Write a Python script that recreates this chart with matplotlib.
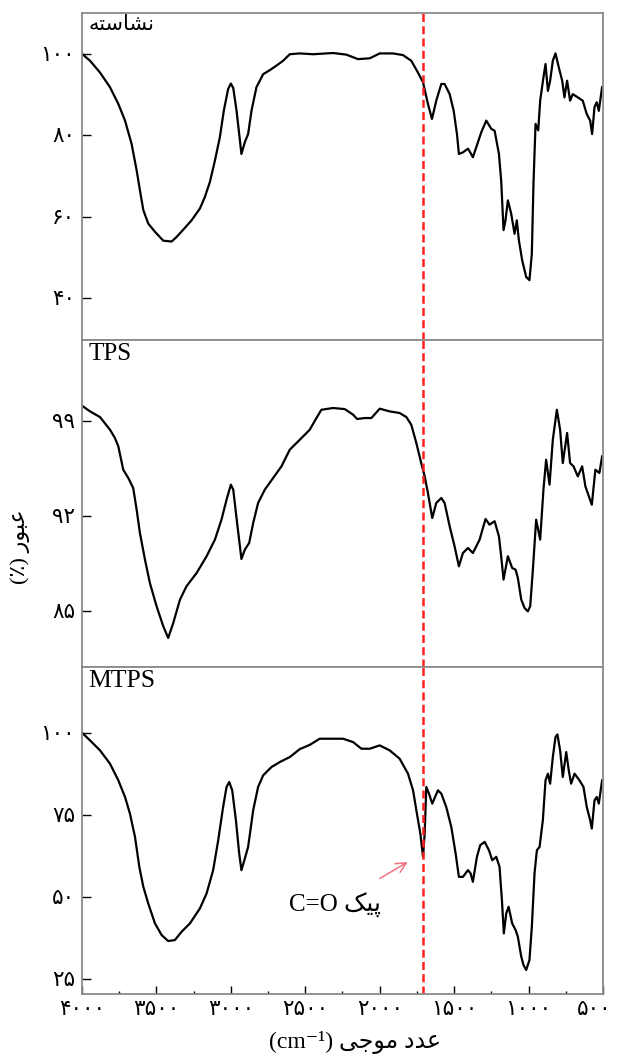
import matplotlib
matplotlib.use("Agg")
import matplotlib.pyplot as plt
from matplotlib.transforms import ScaledTranslation

# wavenumber (cm-1) / transmittance (%)
starch_wn = [4000, 3946, 3879, 3812, 3756, 3711, 3667, 3633, 3611, 3588, 3555, 3510, 3454, 3398, 3365,
             3320, 3264, 3208, 3175, 3141, 3107, 3074, 3047, 3018, 3000, 2984, 2962, 2944, 2929, 2906,
             2884, 2861, 2828, 2783, 2738, 2694, 2649, 2604, 2537, 2448, 2313, 2224, 2146, 2067, 2000,
             1911, 1844, 1788, 1743, 1709, 1676, 1649, 1620, 1586, 1564, 1530, 1503, 1481, 1468, 1441,
             1407, 1392, 1374, 1351, 1318, 1284, 1251, 1228, 1199, 1184, 1168, 1155, 1139, 1117, 1094,
             1079, 1065, 1043, 1016, 994, 978, 967, 953, 935, 922, 900, 886, 870, 855, 837,
             819, 797, 774, 759, 741, 721, 703, 669, 636, 609, 586, 573, 557, 542, 528, 506]
starch_t = [100, 98.3, 95.4, 91.8, 87.7, 83.6, 77.9, 71.4, 66.5, 61.6, 58.3, 56.3, 54.1, 53.9, 55.0,
            56.8, 59.1, 62.0, 64.8, 68.5, 73.8, 79.5, 86.1, 91.4, 92.7, 91.6, 86.1, 80.3, 75.4, 78.3,
            80.3, 86.1, 91.8, 95.0, 96.0, 97.1, 98.3, 99.9, 100.1, 99.9, 100.2, 99.8, 98.7, 98.9, 100.1,
            100.1, 99.7, 98.3, 95.4, 93.0, 87.7, 84.0, 88.5, 92.6, 92.6, 90.1, 86.0, 80.3, 75.4, 75.8,
            76.7, 75.8, 74.6, 77.1, 80.7, 83.6, 81.6, 81.1, 75.4, 68.9, 56.7, 59.1, 64.0, 60.8, 55.8,
            59.1, 54.2, 49.3, 45.2, 44.4, 50.9, 68.1, 82.8, 81.2, 88.5, 94.2, 97.5, 90.9, 93.4, 98.3,
            100.1, 96.7, 93.4, 89.3, 93.4, 88.5, 90.1, 89.3, 88.5, 85.2, 83.6, 80.3, 86.9, 88.1, 86.0, 91.8]

tps_wn = [4000, 3946, 3879, 3812, 3779, 3756, 3723, 3689, 3656, 3633, 3611, 3577, 3544, 3499, 3454,
          3421, 3387, 3342, 3298, 3230, 3163, 3107, 3063, 3029, 3000, 2984, 2958, 2929, 2906, 2877,
          2850, 2817, 2772, 2716, 2660, 2604, 2537, 2470, 2425, 2392, 2313, 2235, 2179, 2152, 2101,
          2056, 2000, 1933, 1866, 1821, 1788, 1754, 1721, 1698, 1676, 1647, 1620, 1586, 1564, 1530,
          1497, 1468, 1441, 1407, 1374, 1329, 1289, 1262, 1228, 1199, 1184, 1168, 1139, 1110, 1087,
          1072, 1049, 1027, 1005, 989, 971, 949, 922, 900, 882, 859, 837, 810, 788, 770,
          741, 721, 698, 669, 640, 618, 595, 575, 551, 524, 506]
tps_t = [100.16, 99.74, 99.32, 98.39, 97.78, 97.16, 95.44, 94.83, 94.09, 92.5, 90.78, 88.81, 87.09, 85.37, 83.9,
         83.04, 84.14, 85.86, 86.85, 87.83, 89.06, 90.29, 91.76, 93.23, 94.34, 93.97, 91.51, 88.86, 89.55, 90.04,
         91.51, 92.99, 93.97, 94.83, 95.69, 96.92, 97.65, 98.39, 99.25, 99.86, 99.99, 99.91, 99.5, 99.18, 99.25,
         99.25, 99.94, 99.74, 99.62, 99.32, 98.76, 97.41, 95.93, 94.95, 93.72, 91.88, 92.99, 93.36, 92.99, 91.27,
         89.79, 88.32, 89.3, 89.67, 89.3, 90.28, 91.81, 91.39, 91.64, 90.53, 89.06, 87.34, 89.06, 88.2, 88.07,
         87.46, 85.86, 85.25, 85.0, 85.37, 88.07, 91.76, 90.29, 93.97, 96.18, 94.34, 97.65, 99.86, 98.39, 95.93,
         98.15, 95.93, 95.69, 94.95, 95.69, 94.21, 93.48, 92.86, 95.44, 95.2, 96.42]

mtps_wn = [4000, 3946, 3879, 3812, 3756, 3711, 3678, 3644, 3615, 3588, 3555, 3510, 3465, 3421, 3376,
           3331, 3275, 3208, 3163, 3119, 3085, 3052, 3029, 3011, 2991, 2966, 2944, 2929, 2906, 2884,
           2850, 2817, 2783, 2727, 2671, 2604, 2537, 2470, 2403, 2246, 2179, 2123, 2067, 2000, 1933,
           1866, 1810, 1776, 1750, 1727, 1709, 1698, 1687, 1669, 1647, 1609, 1586, 1553, 1519, 1490,
           1468, 1441, 1407, 1389, 1374, 1347, 1325, 1295, 1266, 1244, 1217, 1195, 1179, 1166, 1150,
           1134, 1110, 1087, 1072, 1049, 1034, 1016, 994, 978, 960, 944, 926, 904, 886, 870,
           855, 837, 819, 806, 788, 770, 747, 730, 714, 691, 658, 631, 609, 586, 575, 557,
           542, 528, 506]
mtps_t = [100, 97.66, 94.62, 90.56, 85.49, 80.42, 75.36, 68.26, 59.13, 53.05, 47.98, 41.9, 38.35, 36.53, 36.83,
          39.36, 41.9, 46.46, 51.03, 58.12, 67.24, 77.38, 83.47, 84.99, 82.45, 73.33, 63.19, 58.12, 61.67, 65.22,
          76.37, 83.47, 87.02, 89.55, 91.07, 92.59, 95.0, 96.3, 98.17, 98.17, 97.15, 95.12, 95.12, 96.14, 94.62,
          92.08, 87.52, 82.45, 75.36, 69.27, 62.18, 69.27, 83.47, 81.44, 78.4, 82.45, 81.44, 77.38, 71.3, 63.19,
          56.09, 56.09, 58.12, 57.1, 54.57, 62.18, 65.72, 66.74, 64.2, 61.16, 62.18, 59.13, 49.0, 38.86, 44.94,
          46.97, 41.9, 39.87, 37.85, 31.76, 29.23, 27.71, 30.75, 40.88, 57.1, 64.2, 65.22, 73.33, 85.49, 87.52,
          84.48, 92.59, 98.67, 99.48, 94.62, 86.51, 94.11, 88.53, 84.48, 87.52, 85.49, 83.47, 77.38, 73.33, 70.79, 79.4,
          80.42, 78.4, 85.49]

# panel names (Arabic written in presentation forms, visual order)
panel_names = ["\uFEEA\uFE98\uFEB3\uFE8E\uFEB8\uFEE7", "TPS", "MTPS"]
name_sizes = [15, 18, 18.5]
ylims = [(29.7, 110), (80.9, 105), (20.4, 120)]
yticks = [[100, 80, 60, 40], [99, 92, 85], [100, 75, 50, 25]]
ytick_labels = [["۱۰۰", "۸۰", "۶۰", "۴۰"], ["۹۹", "۹۲", "۸۵"], ["۱۰۰", "۷۵", "۵۰", "۲۵"]]
xticks = [4000, 3500, 3000, 2500, 2000, 1500, 1000, 500]
xtick_labels = ["۴۰۰۰", "۳۵۰۰", "۳۰۰۰", "۲۵۰۰", "۲۰۰۰", "۱۵۰۰", "۱۰۰۰", "۵۰۰"]
carbonyl = 1712

ylabel = "(\u066A) \uFEAD\uFEEE\uFE92\uFECB"
xlabel = "(cm\u207B\u00B9) \uFEF0\uFE9F\uFEEE\uFEE3 \uFEA9\uFEAA\uFECB"
peak_label = "C=O \uFB8F\uFEF4\uFB58"

plt.rcParams["font.family"] = ["Liberation Serif", "DejaVu Sans"]

fig = plt.figure(figsize=(6.18, 10.58), dpi=100)
spectra = [(starch_wn, starch_t), (tps_wn, tps_t), (mtps_wn, mtps_t)]
bottoms = [0.6786, 0.3696, 0.0605]
axes = []
for i, (wn, t) in enumerate(spectra):
    ax = fig.add_axes([0.1327, bottoms[i], 0.843, 0.309])
    ax.plot(wn, t, color="black", lw=1.6, solid_joinstyle="round")
    ax.axvline(carbonyl, color="#ff1f1f", lw=1.8, dashes=(3.2, 1.7))
    ax.set_xlim(4000, 500)
    ax.set_ylim(*ylims[i])
    ax.set_yticks(yticks[i])
    ax.set_yticklabels(ytick_labels[i], fontsize=15.5)
    ax.tick_params(axis="y", direction="in", length=6.5, width=1, pad=5)
    for s in ax.spines.values():
        s.set_color("#8a8a8a")
        s.set_linewidth(1.3)
    ax.text(0.012, 0.992, panel_names[i], transform=ax.transAxes, va="top", ha="left",
            fontsize=name_sizes[i])
    if i < 2:
        ax.set_xticks([])
    axes.append(ax)

ax = axes[2]
ax.set_xticks(xticks)
ax.set_xticklabels(xtick_labels, fontsize=15.5)
ax.set_xticks(range(3750, 500, -500), minor=True)
ax.tick_params(axis="x", which="major", direction="in", length=6, width=1, pad=5)
ax.tick_params(axis="x", which="minor", direction="in", length=2, width=1)
# nudge the last label so it stays inside the figure
last = ax.get_xticklabels()[-1]
last.set_transform(last.get_transform() + ScaledTranslation(-6 / 72, 0, fig.dpi_scale_trans))
ax.set_xlabel(xlabel, fontsize=17, labelpad=8)
ax.xaxis.label.set_x(0.524)
ax.annotate(peak_label, xy=(1812, 60.6), xytext=(2302, 47.5), ha="center", va="center",
            fontsize=18, arrowprops=dict(arrowstyle="->", color="#f07080", lw=1.1,
                                         shrinkA=16, shrinkB=0))

fig.text(0.032, 0.483, ylabel, rotation=90, ha="center", va="center", fontsize=16)

fig.savefig("out.png", dpi=100)
